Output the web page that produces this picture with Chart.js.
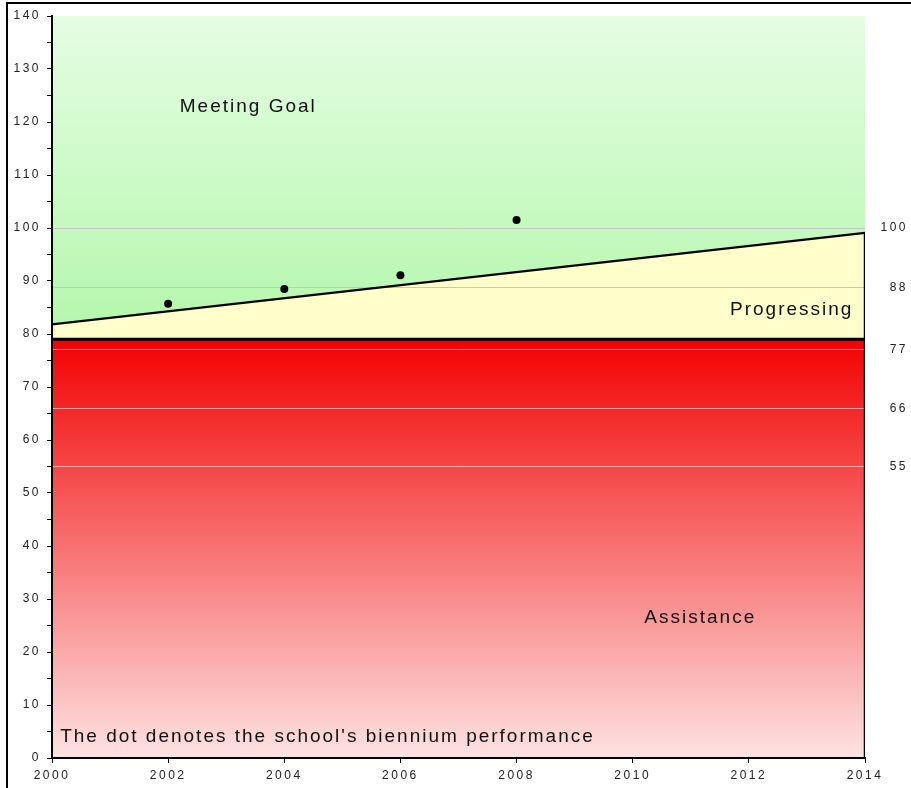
<!DOCTYPE html>
<html>
<head>
<meta charset="utf-8">
<script src="https://cdn.jsdelivr.net/npm/chart.js@4.4.1/dist/chart.umd.min.js"></script>
<style>
  html, body { margin: 0; padding: 0; background: #fff; }
  canvas { display: block; }
</style>
</head>
<body>
<canvas id="chart" width="911" height="788"></canvas>
<script>
// School scores, one dot per biennium
const years = [2002, 2004, 2006, 2008];
const scores = [85.7, 88.5, 91.1, 101.5];

// Goal line, from start to end of the period
const goalYears = [2000, 2014];
const goalValues = [81.8, 99.1];

// Assistance zone top and chart top
const assistanceTop = 79;
const chartTop = 140;

// Right-hand reference ticks
const rightTickValues = [100, 88.8, 77, 66, 55];
const rightTickLabels = ['100', '88', '77', '66', '55'];

// Zone labels: text, x (year), y (value), alignment
const zoneTexts = ['Meeting Goal', 'Progressing', 'Assistance', "The dot denotes the school's biennium performance"];
const zoneX = [2002.2, 2013.8, 2010.2, 2000.14];
const zoneY = [122.8, 84.5, 26.4, 4.0];
const zoneAlign = ['left', 'right', 'left', 'left'];

function pts(xs, ys) {
  return xs.map((x, i) => ({ x: x, y: ys[i] }));
}

function gradient(context, from, to, c1, c2) {
  const chart = context.chart;
  if (!chart.chartArea) return c2;
  const y = chart.scales.y;
  const g = chart.ctx.createLinearGradient(0, y.getPixelForValue(from), 0, y.getPixelForValue(to));
  g.addColorStop(0, c1);
  g.addColorStop(1, c2);
  return g;
}

// Frame and letter spacing, like the old spreadsheet look
const framePlugin = {
  id: 'frame',
  beforeDraw(chart) {
    const ctx = chart.ctx;
    ctx.save();
    ctx.strokeStyle = '#000';
    ctx.lineWidth = 2;
    ctx.beginPath();
    ctx.moveTo(7, chart.height);
    ctx.lineTo(7, 3);
    ctx.lineTo(chart.width, 3);
    ctx.stroke();
    ctx.restore();
    ctx.letterSpacing = '2.5px';
  },
  afterDatasetsDraw(chart) {
    const ctx = chart.ctx;
    const { x, y } = chart.scales;
    ctx.save();
    ctx.letterSpacing = '2px';
    ctx.font = '19px "Liberation Sans", Arial, sans-serif';
    ctx.fillStyle = '#111';
    ctx.textBaseline = 'middle';
    zoneTexts.forEach((t, i) => {
      ctx.textAlign = zoneAlign[i];
      ctx.fillText(t, x.getPixelForValue(zoneX[i]), y.getPixelForValue(zoneY[i]));
    });
    ctx.restore();
  }
};

const tickFont = { family: '"Liberation Sans", Arial, sans-serif', size: 12 };

new Chart(document.getElementById('chart'), {
  type: 'line',
  data: {
    datasets: [
      {
        // dots
        data: pts(years, scores),
        showLine: false,
        pointRadius: 4,
        pointBackgroundColor: '#000',
        pointBorderColor: '#000',
        pointBorderWidth: 0
      },
      {
        // goal line, yellow below it down to the assistance zone
        data: pts(goalYears, goalValues),
        borderColor: '#000',
        borderWidth: 2.2,
        pointRadius: 0,
        fill: { value: assistanceTop },
        backgroundColor: '#ffffcc'
      },
      {
        // green above the goal line
        data: pts(goalYears, [chartTop, chartTop]),
        borderWidth: 0,
        pointRadius: 0,
        fill: 1,
        backgroundColor: (c) => gradient(c, chartTop, 80, '#e5fde3', '#b4f7ac')
      },
      {
        // red assistance zone
        data: pts(goalYears, [assistanceTop, assistanceTop]),
        borderColor: '#000',
        borderWidth: 3,
        pointRadius: 0,
        fill: 'origin',
        backgroundColor: (c) => gradient(c, assistanceTop, 0, '#f20202', '#fde2e2')
      },
      {
        // right edge of the zones
        data: pts([2014, 2014], [0, goalValues[1]]),
        borderColor: '#000',
        borderWidth: 2.5,
        pointRadius: 0,
        fill: false
      }
    ]
  },
  options: {
    responsive: false,
    animation: false,
    devicePixelRatio: 1,
    layout: { padding: { top: 16, left: 0, right: 3, bottom: 0 } },
    plugins: {
      legend: { display: false },
      tooltip: { enabled: false },
      filler: { drawTime: 'beforeDraw' }
    },
    scales: {
      x: {
        type: 'linear',
        min: 2000,
        max: 2014,
        afterFit: (s) => { s.height = 30; },
        grid: { drawOnChartArea: false, tickLength: 5, color: '#000', tickWidth: 1 },
        border: { display: true, color: '#000', width: 2 },
        ticks: {
          stepSize: 2,
          autoSkip: false,
          maxRotation: 0,
          padding: 5,
          color: '#222',
          font: tickFont,
          callback: (v) => String(v)
        }
      },
      y: {
        position: 'left',
        min: 0,
        max: chartTop,
        afterFit: (s) => { s.width = 52; },
        grid: { drawOnChartArea: false, tickLength: 5, color: '#000', tickWidth: 1 },
        border: { display: true, color: '#000', width: 2 },
        ticks: {
          stepSize: 5,
          autoSkip: false,
          padding: 6,
          color: '#222',
          font: tickFont,
          callback: (v) => (v % 10 === 0 ? String(v) : '')
        }
      },
      y2: {
        position: 'right',
        min: 0,
        max: chartTop,
        afterFit: (s) => { s.width = 43; },
        afterBuildTicks: (s) => { s.ticks = rightTickValues.map((v) => ({ value: v })); },
        grid: {
          drawTicks: false,
          lineWidth: 1,
          color: (c) => (c.tick && c.tick.value < assistanceTop ? 'rgba(255,235,235,0.6)' : '#c6c6c6')
        },
        border: { display: false },
        ticks: {
          autoSkip: false,
          crossAlign: 'far',
          color: '#222',
          font: tickFont,
          callback: (v, i) => rightTickLabels[i]
        }
      }
    }
  },
  plugins: [framePlugin]
});
</script>
</body>
</html>
